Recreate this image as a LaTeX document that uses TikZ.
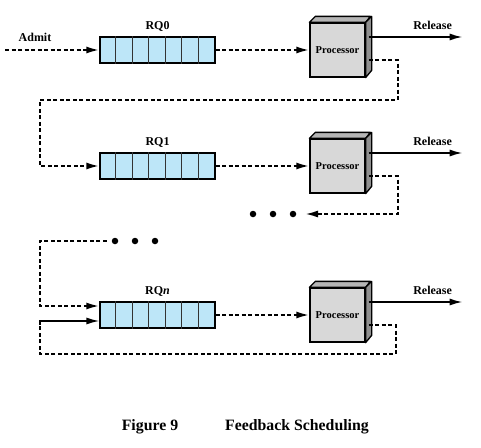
\documentclass[tikz,border=0pt]{standalone}
\usepackage{fontspec}
\setmainfont{Liberation Serif}
\usetikzlibrary{arrows.meta, calc}
\definecolor{qblue}{HTML}{BDE6F8}
\definecolor{pfront}{HTML}{D8D8D8}
\definecolor{pside}{HTML}{8F8F8F}
\definecolor{ptop}{HTML}{B5B5B5}
\tikzset{
  queue/.style={draw, line width=1.3pt, fill=qblue, minimum width=115pt,
    minimum height=26pt, inner sep=0pt},
  cell/.style={gray!40!black, line width=0.6pt},
  proc/.style={draw, line width=1.3pt, fill=pfront, minimum width=55pt,
    minimum height=54pt, inner sep=0pt, font=\fontsize{10.5}{12}\selectfont\bfseries},
  lbl/.style={font=\fontsize{12}{14}\selectfont\bfseries},
  fb/.style={line width=2pt, dash pattern=on 4pt off 2.5pt},
  fbarrow/.style={fb, -{Latex[length=13pt, width=7pt]}},
  rel/.style={line width=1.8pt, -{Latex[length=13pt, width=7pt]}},
  dot/.style={circle, fill, inner sep=0pt, minimum size=6.5pt},
}

\begin{document}
\begin{tikzpicture}[x=1pt, y=-1pt]
\useasboundingbox (0,0) rectangle (481,447);

%% ─── Ready queues ────────────────────────────────────────────────────────────
\foreach \n/\y/\lbl in {0/50/RQ0, 1/166/RQ1, n/315/{RQ\textit{n}}} {
  \node[queue] (q\n) at (157.5,\y) {};
  \foreach \k in {1,...,6}
    \draw[cell] ($(q\n.north west)+(\k*16.43,0)$) -- ($(q\n.south west)+(\k*16.43,0)$);
  \node[lbl, above=1pt] (lq\n) at (q\n.north) {\lbl};
}

%% ─── Processors with release arrows ──────────────────────────────────────────
\foreach \n/\y in {0/50, 1/166, n/315} {
  \node[proc] (p\n) at (337.5,\y) {Processor};
  \filldraw[fill=ptop, line width=1.3pt, line join=round]
    (p\n.north west) -- ++(6,-6) -- ++(55,0) -- (p\n.north east) -- cycle;
  \filldraw[fill=pside, line width=1.3pt, line join=round]
    (p\n.north east) -- ++(6,-6) -- ++(0,54) -- (p\n.south east) -- cycle;
  % release
  \coordinate (r\n) at ($(p\n.east)+(3,-13)$);
  \coordinate (re\n) at ($(r\n)+(94,0)$);
  \draw[rel] (r\n) -- (re\n);
  \node[lbl] (lr\n) at ($(r\n)+(64,-12)$) {Release};
  % queue to processor
  \draw[fbarrow] (q\n.east) -- (p\n.west);
  % feedback start
  \coordinate (f\n) at ($(p\n.east)+(3,10)$);
}

%% ─── Admission ───────────────────────────────────────────────────────────────
\coordinate (adm) at (5,50);
\draw[fbarrow] (adm) -- (q0.west);
\node[lbl] (ladm) at (35,37) {Admit};

%% ─── Feedback RQ0 -> RQ1 ─────────────────────────────────────────────────────
\draw[fbarrow] (f0) -- ++(29,0) -- ++(0,40) -- (40,100) |- (q1.west);

%% ─── Feedback RQ1 -> ... ─────────────────────────────────────────────────────
\foreach \i/\x in {1/253, 2/273, 3/293}
  \node[dot] (d\i) at (\x,214) {};
\coordinate (e1) at (305,214);
\draw[fbarrow] (f1) -- ++(29,0) |- (e1);

%% ─── ... -> RQn ──────────────────────────────────────────────────────────────
\foreach \i/\x in {1/115, 2/135, 3/155}
  \node[dot] (l\i) at (\x,241) {};
\coordinate (qin) at ($(qn.west)+(0,-9)$);
\draw[fbarrow, shorten <=5pt] (l1.west) -- (40,241) |- (qin);

%% ─── Feedback RQn -> RQn ─────────────────────────────────────────────────────
\coordinate (qsol) at ($(qn.west)+(0,6)$);
\draw[fb] (fn) -- ++(27,0) |- (40,354) -- (40,325);
\draw[rel, line width=1.5pt] (40,325) |- (qsol);

%% ─── Caption ─────────────────────────────────────────────────────────────────
\node[font=\fontsize{15.8}{18}\selectfont\bfseries] (fig) at (150,427) {Figure 9};
\node[font=\fontsize{15.8}{18}\selectfont\bfseries] (cap) at (297,427) {Feedback Scheduling};

\end{tikzpicture}
\end{document}
